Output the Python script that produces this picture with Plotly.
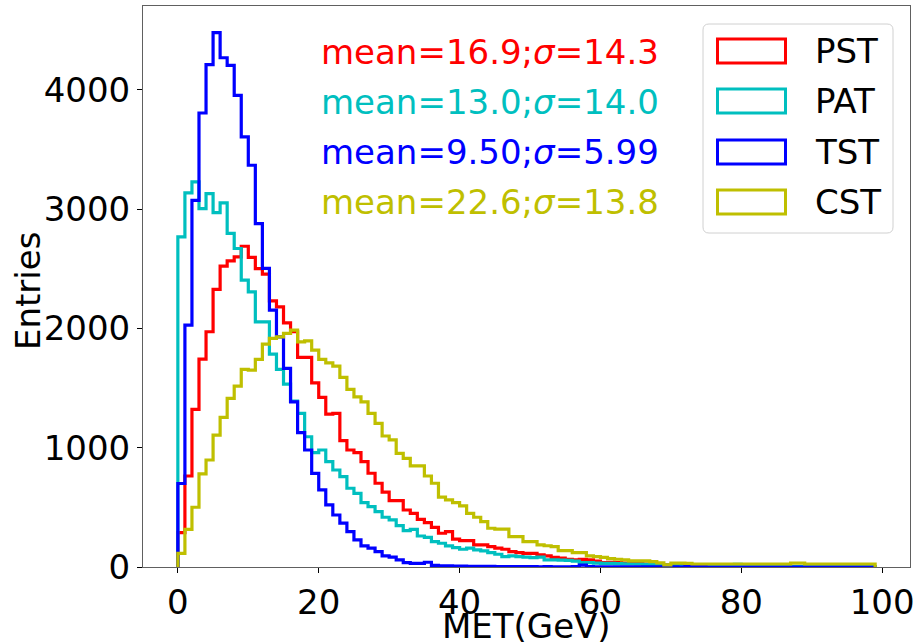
import numpy as np
import plotly.graph_objects as go

# ---------------- data (bin width 1 GeV, bins start at 0) ----------------
bin_start = 0
bin_width = 1

PST = [288, 763, 1321, 1743, 1972, 2327, 2522, 2566, 2600, 2689,
       2595, 2502, 2455, 2231, 2181, 2047, 1972, 1757, 1757, 1544,
       1422, 1282, 1288, 1059, 981, 958, 883, 786, 702, 627,
       556, 556, 478, 450, 400, 372, 333, 283, 297, 233,
       221, 221, 185, 185, 171, 158, 149, 129, 121, 115,
       115, 101, 93, 80, 74, 65, 60, 64, 60, 50,
       36, 40, 36, 32, 30, 28, 25, 22, 20, 18,
       15, 14, 12, 11, 10, 10, 9, 8, 8, 7,
       7, 20, 6, 6, 5, 5, 5, 4, 4, 4,
       4, 4, 3, 3, 3, 3, 3, 3, 3]

PAT = [2767, 3136, 3228, 3005, 3130, 2971, 3052, 2796, 2670, 2405,
       2307, 2055, 2055, 1785, 1657, 1533, 1390, 1288, 1092, 958,
       981, 883, 813, 757, 660, 618, 539, 506, 464, 417,
       395, 347, 305, 316, 260, 249, 213, 199, 177, 163,
       149, 158, 143, 135, 121, 107, 87, 93, 87, 82,
       78, 82, 60, 60, 58, 55, 50, 36, 36, 33,
       30, 30, 28, 26, 25, 25, 22, 20, 18, 15,
       11, 10, 9, 8, 8, 7, 7, 6, 6, 22,
       6, 5, 5, 5, 5, 4, 4, 4, 4, 4,
       4, 18, 4, 3, 3, 3, 3, 3, 3]

TST = [700, 2028, 3074, 3806, 4211, 4479, 4269, 4205, 3954, 3605,
       3368, 2879, 2503, 2153, 1930, 1665, 1385, 1126, 981, 785,
       646, 520, 436, 367, 297, 227, 177, 158, 129, 93,
       82, 60, 37, 31, 31, 40, 14, 10, 9, 8,
       7, 6, 6, 5, 5, 4, 4, 4, 3, 3,
       3, 2, 3, 2, 2, 2, 3, 15, 3, 2,
       2, 2, 2, 2, 1, 1, 1, 1, 1, 1,
       1, 0, 8, 8, 8, 0, 0, 0, 0, 0,
       0, 0, 0, 0, 0, 0, 0, 0, 0, 0,
       0, 0, 0, 0, 0, 0, 0, 0, 0]

CST = [115, 316, 501, 780, 897, 1106, 1254, 1414, 1517, 1657,
       1650, 1740, 1869, 1916, 1930, 1958, 1986, 1888, 1896, 1818,
       1740, 1712, 1684, 1590, 1489, 1427, 1385, 1288, 1204, 1098,
       1065, 953, 911, 847, 847, 763, 702, 585, 562, 539,
       512, 450, 417, 380, 325, 317, 317, 255, 255, 213,
       213, 185, 178, 171, 137, 137, 121, 121, 93, 87,
       80, 70, 65, 60, 51, 51, 51, 45, 35, 18,
       32, 32, 30, 25, 25, 25, 25, 25, 25, 25,
       25, 25, 25, 25, 25, 25, 25, 32, 32, 25,
       25, 25, 25, 25, 25, 25, 25, 25, 25]

series_names = ["PST", "PAT", "TST", "CST"]
series_values = [PST, PAT, TST, CST]
series_colors = ["#ff0000", "#00bfbf", "#0000ff", "#bfbf00"]
stat_labels = ["mean=16.9;<i>σ</i>=14.3",
               "mean=13.0;<i>σ</i>=14.0",
               "mean=9.50;<i>σ</i>=5.99",
               "mean=22.6;<i>σ</i>=13.8"]
x_ticks = [0, 20, 40, 60, 80, 100]
y_ticks = [0, 1000, 2000, 3000, 4000]
x_title = "MET(GeV)"
y_title = "Entries"

# ---------------- layout geometry (pixels) ----------------
W, H = 917, 643
L, R, T, B = 143, 910, 6, 567
FONT = "DejaVu Sans"
FS = 34


def px(x):
    return (x - L) / (R - L)


def py(y):
    return (B - y) / (B - T)


fig = go.Figure()

all_max = 0
for name, vals, col in zip(series_names, series_values, series_colors):
    counts = np.asarray(vals, dtype=float)
    n = len(counts)
    edges = bin_start + bin_width * np.arange(n + 1)
    xs = np.concatenate([[edges[0]], edges[:-1], [edges[-1], edges[-1]]])
    ys = np.concatenate([[0], counts, [counts[-1], 0]])
    all_max = max(all_max, counts.max())
    fig.add_trace(go.Scatter(x=xs, y=ys, mode="lines", name=name,
                             line=dict(color=col, width=3.2, shape="hv"),
                             showlegend=False, hoverinfo="skip"))

n_bins = len(PST)
x_lo = bin_start
x_hi = bin_start + bin_width * n_bins
pad = 0.05 * (x_hi - x_lo)

axis_common = dict(
    showgrid=False, zeroline=False, showline=True, mirror=True,
    linecolor="#606060", linewidth=1, automargin=False,
    ticks="outside", ticklen=5, tickwidth=1, tickcolor="#000000",
    tickfont=dict(family=FONT, size=FS, color="#000000"),
)

fig.update_layout(
    width=W, height=H,
    margin=dict(l=L, r=W - R, t=T, b=H - B, pad=0, autoexpand=False),
    paper_bgcolor="white", plot_bgcolor="white",
    showlegend=False,
    xaxis=dict(range=[x_lo - pad, x_hi + pad], tickvals=x_ticks, **axis_common),
    yaxis=dict(range=[0, 1.05 * all_max], tickvals=y_ticks, **axis_common),
)

# axis titles (placed as text so they can sit where the reference has them)
fig.add_annotation(x=0.5, y=py(625.5), xref="paper", yref="paper",
                   text=x_title, showarrow=False, xanchor="center", yanchor="middle",
                   font=dict(family=FONT, size=FS, color="#000000"))
fig.add_annotation(x=px(28), y=py(291), xref="paper", yref="paper",
                   text=y_title, showarrow=False, xanchor="center", yanchor="middle",
                   textangle=-90, font=dict(family=FONT, size=FS, color="#000000"))

# statistics text
stat_y = [52, 102, 152, 202]
for txt, col, yy in zip(stat_labels, series_colors, stat_y):
    fig.add_annotation(x=px(319), y=py(yy), xref="paper", yref="paper",
                       text=txt, showarrow=False, xanchor="left", yanchor="middle",
                       font=dict(family=FONT, size=FS, color=col))

# legend frame (rounded)
lx0, lx1, ly0, ly1, rr = 703, 893, 24, 233, 6
rx = rr / (R - L)
ry = rr / (B - T)
X0, X1, Y0, Y1 = px(lx0), px(lx1), py(ly0), py(ly1)
path = (f"M {X0 + rx},{Y0} L {X1 - rx},{Y0} Q {X1},{Y0} {X1},{Y0 - ry} "
        f"L {X1},{Y1 + ry} Q {X1},{Y1} {X1 - rx},{Y1} "
        f"L {X0 + rx},{Y1} Q {X0},{Y1} {X0},{Y1 + ry} "
        f"L {X0},{Y0 - ry} Q {X0},{Y0} {X0 + rx},{Y0} Z")
fig.add_shape(type="path", path=path, xref="paper", yref="paper",
              line=dict(color="#d0d0d0", width=1), fillcolor="rgba(255,255,255,0.8)",
              layer="above")

row_y = [51, 101, 152, 202]
for name, col, yy in zip(series_names, series_colors, row_y):
    fig.add_shape(type="rect", xref="paper", yref="paper",
                  x0=px(717.5), x1=px(785.5), y0=py(yy - 12), y1=py(yy + 12),
                  line=dict(color=col, width=3), fillcolor="rgba(0,0,0,0)", layer="above")
    fig.add_annotation(x=px(813), y=py(yy), xref="paper", yref="paper",
                       text=name, showarrow=False, xanchor="left", yanchor="middle",
                       font=dict(family=FONT, size=FS, color="#000000"))

fig.write_html("out.html")
